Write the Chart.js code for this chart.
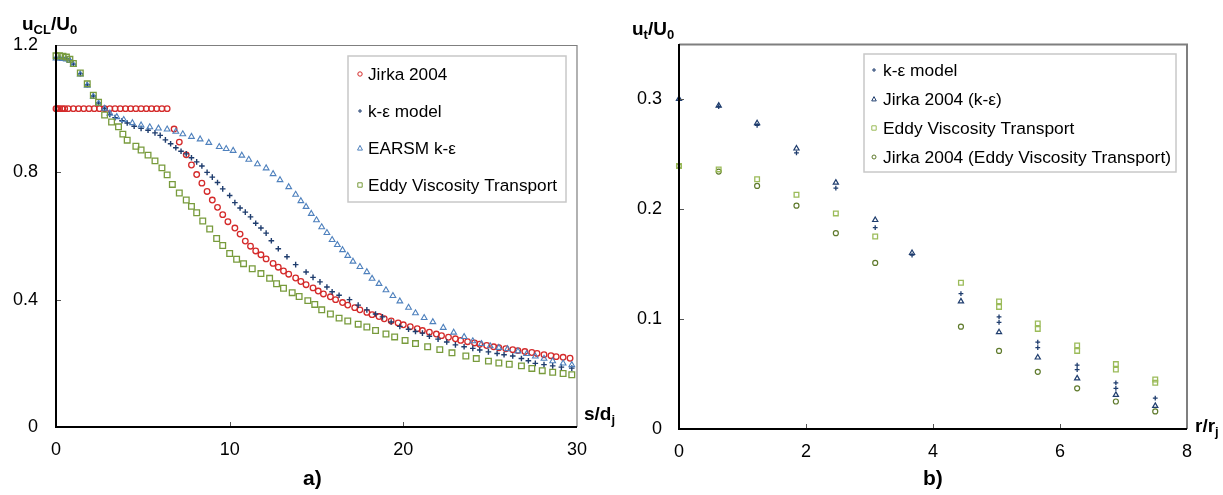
<!DOCTYPE html>
<html><head><meta charset="utf-8">
<script src="https://cdn.jsdelivr.net/npm/chart.js@4/dist/chart.umd.min.js"></script>
<style>
html,body{margin:0;padding:0;background:#fff;}
body{width:1223px;height:495px;position:relative;overflow:hidden;font-family:"Liberation Sans",Arial,sans-serif;}
canvas{position:absolute;top:0;}
.t{position:absolute;font-weight:bold;font-size:19px;line-height:19px;white-space:nowrap;color:#000;}
.t sub{font-size:13px;vertical-align:-4px;line-height:0;}
.p{position:absolute;font-weight:bold;font-size:21px;line-height:21px;color:#000;}
</style></head><body>
<canvas id="c1" width="610" height="495" style="left:0"></canvas>
<canvas id="c2" width="613" height="495" style="left:610px"></canvas>
<div class="t" style="left:22px;top:14px">u<sub>CL</sub>/U<sub>0</sub></div>
<div class="t" style="left:584px;top:404px">s/d<sub>j</sub></div>
<div class="p" style="left:303px;top:467px">a)</div>
<div class="t" style="left:632px;top:19px">u<sub>t</sub>/U<sub>0</sub></div>
<div class="t" style="left:1195px;top:416px">r/r<sub>j</sub></div>
<div class="p" style="left:923px;top:467px">b)</div>
<script>
// ---------- DATA ----------
// panel a) centreline velocity u_CL/U_0 vs s/d_j
const jirkaA = [[0,1.0],[0.1,1.0],[0.2,1.0],[0.35,1.0],[0.5,1.0],[0.7,1.0],[1.0,1.0],[1.3,1.0],[1.6,1.0],[1.9,1.0],[2.2,1.0],[2.5,1.0],[2.8,1.0],[3.1,1.0],[3.4,1.0],[3.7,1.0],[4.0,1.0],[4.3,1.0],[4.6,1.0],[4.9,1.0],[5.2,1.0],[5.5,1.0],[5.8,1.0],[6.1,1.0],[6.4,1.0],
[6.8,0.936],[7.1,0.895],[7.5,0.855],[7.8,0.823],[8.1,0.793],[8.4,0.766],[8.7,0.740],[9.0,0.713],[9.3,0.690],[9.6,0.667],[9.9,0.645],[10.3,0.625],[10.6,0.606],[10.9,0.584],[11.2,0.568],[11.5,0.553],[11.8,0.541],[12.1,0.528],[12.5,0.514],[12.8,0.502],[13.1,0.490],[13.4,0.480],[13.8,0.468],[14.1,0.457],[14.4,0.447],[14.8,0.437],[15.1,0.427],[15.4,0.418],[15.8,0.409],[16.1,0.400],[16.5,0.391],[16.8,0.383],[17.2,0.375],[17.5,0.368],[17.9,0.360],[18.2,0.353],[18.6,0.347],[18.9,0.340],[19.3,0.333],[19.7,0.327],[20.0,0.321],[20.4,0.315],[20.8,0.309],[21.1,0.303],[21.5,0.298],[21.9,0.292],[22.2,0.287],[22.6,0.282],[23.0,0.277],[23.3,0.272],[23.7,0.268],[24.1,0.264],[24.4,0.260],[24.8,0.256],[25.2,0.252],[25.5,0.249],[25.9,0.246],[26.3,0.243],[26.6,0.240],[27.0,0.237],[27.4,0.234],[27.7,0.231],[28.1,0.227],[28.5,0.224],[28.8,0.221],[29.2,0.219],[29.6,0.216]];
const kepsA = [[0,1.16],[0.2,1.16],[0.4,1.16],[0.6,1.157],[0.8,1.152],[1.0,1.14],[1.4,1.11],[1.8,1.075],[2.15,1.04],[2.45,1.018],[2.8,1.0],[3.1,0.982],[3.4,0.972],[3.8,0.962],[4.1,0.955],[4.5,0.945],[4.9,0.938],[5.3,0.932],[5.7,0.924],[6.0,0.916],[6.3,0.902],[6.6,0.89],[6.9,0.877],[7.2,0.866],[7.5,0.858],[7.8,0.846],[8.1,0.833],[8.4,0.82],[8.7,0.80],[9.0,0.785],[9.3,0.768],[9.6,0.748],[10.0,0.727],[10.3,0.705],[10.6,0.688],[10.9,0.675],[11.2,0.66],[11.5,0.64],[11.8,0.625],[12.1,0.609],[12.4,0.585],[12.8,0.56],[13.3,0.535],[13.8,0.51],[14.4,0.487],[14.8,0.47],[15.2,0.456],[15.6,0.44],[15.9,0.425],[16.3,0.414],[16.9,0.40],[17.4,0.383],[17.9,0.368],[18.4,0.355],[18.8,0.346],[19.3,0.33],[19.8,0.316],[20.3,0.307],[20.7,0.30],[21.1,0.295],[21.5,0.285],[22.0,0.276],[22.5,0.267],[23.0,0.258],[23.5,0.252],[24.0,0.247],[24.4,0.242],[24.9,0.236],[25.4,0.231],[25.8,0.227],[26.3,0.223],[26.8,0.215],[27.2,0.208],[27.6,0.200],[28.1,0.196],[28.6,0.192],[29.1,0.188],[29.7,0.185]];
const earsmA = [[0,1.158],[0.2,1.158],[0.4,1.157],[0.6,1.155],[0.8,1.15],[1.0,1.138],[1.4,1.108],[1.8,1.073],[2.15,1.038],[2.45,1.016],[2.8,1.0],[3.1,0.985],[3.5,0.974],[3.9,0.965],[4.4,0.955],[4.9,0.948],[5.4,0.942],[5.9,0.938],[6.4,0.935],[6.9,0.928],[7.3,0.92],[7.8,0.912],[8.3,0.904],[8.8,0.893],[9.4,0.88],[9.8,0.874],[10.2,0.868],[10.7,0.853],[11.1,0.84],[11.6,0.826],[12.1,0.813],[12.5,0.795],[12.9,0.776],[13.4,0.754],[13.8,0.73],[14.1,0.71],[14.4,0.692],[14.7,0.67],[15.0,0.65],[15.3,0.628],[15.6,0.61],[15.9,0.588],[16.2,0.572],[16.5,0.556],[16.8,0.538],[17.1,0.52],[17.5,0.503],[17.9,0.487],[18.2,0.466],[18.6,0.45],[19.0,0.43],[19.4,0.412],[19.8,0.395],[20.3,0.375],[20.7,0.358],[21.2,0.343],[21.7,0.33],[22.3,0.312],[22.9,0.297],[23.5,0.283],[24.0,0.27],[24.5,0.261],[25.0,0.254],[25.5,0.249],[26.0,0.245],[26.6,0.238],[27.1,0.23],[27.6,0.222],[28.1,0.215],[28.6,0.207],[29.2,0.2],[29.7,0.195]];
const evtA = [[0,1.166],[0.2,1.166],[0.4,1.165],[0.6,1.162],[0.8,1.155],[1.0,1.142],[1.4,1.112],[1.8,1.078],[2.15,1.042],[2.45,1.02],[2.8,0.98],[3.2,0.958],[3.6,0.943],[3.85,0.92],[4.1,0.901],[4.6,0.882],[4.9,0.87],[5.3,0.854],[5.7,0.836],[6.1,0.814],[6.4,0.792],[6.7,0.762],[7.1,0.735],[7.5,0.713],[7.8,0.693],[8.1,0.673],[8.45,0.647],[8.85,0.622],[9.25,0.592],[9.6,0.57],[10.0,0.545],[10.4,0.527],[10.8,0.513],[11.3,0.497],[11.8,0.482],[12.3,0.467],[12.7,0.45],[13.1,0.436],[13.6,0.422],[14.0,0.41],[14.5,0.397],[14.9,0.385],[15.3,0.368],[15.8,0.355],[16.3,0.342],[16.8,0.333],[17.4,0.323],[17.9,0.314],[18.4,0.303],[19.0,0.292],[19.5,0.283],[20.1,0.272],[20.7,0.262],[21.4,0.252],[22.1,0.243],[22.8,0.233],[23.6,0.223],[24.2,0.215],[24.9,0.207],[25.5,0.201],[26.1,0.197],[26.8,0.192],[27.4,0.184],[28.0,0.177],[28.6,0.172],[29.2,0.168],[29.7,0.164]];
const xTicksA = [0,10,20,30];
const yTicksA = [0,0.4,0.8,1.2];

// panel b) u_t/U_0 vs r/r_j
const kepsB = [[0,0.299],[0.625,0.293],[1.23,0.276],[1.85,0.251],[2.47,0.219],[3.09,0.183],[3.67,0.158],[4.44,0.123],[5.04,0.102],[5.04,0.097],[5.65,0.079],[5.65,0.074],[6.27,0.058],[6.27,0.054],[6.88,0.042],[6.88,0.037],[7.5,0.028]];
const jirkaKeB = [[0,0.3],[0.625,0.294],[1.23,0.278],[1.85,0.255],[2.47,0.224],[3.09,0.19],[3.67,0.16],[4.44,0.116],[5.04,0.088],[5.65,0.065],[6.27,0.046],[6.88,0.031],[7.5,0.021]];
const evtB = [[0,0.239],[0.625,0.236],[1.23,0.227],[1.85,0.213],[2.47,0.196],[3.09,0.175],[4.44,0.133],[5.04,0.116],[5.04,0.111],[5.65,0.096],[5.65,0.091],[6.27,0.076],[6.27,0.071],[6.88,0.059],[6.88,0.054],[7.5,0.045],[7.5,0.042]];
const jirkaEvtB = [[0,0.239],[0.625,0.234],[1.23,0.221],[1.85,0.203],[2.47,0.178],[3.09,0.151],[4.44,0.093],[5.04,0.071],[5.65,0.052],[6.27,0.037],[6.88,0.025],[7.5,0.016]];
const xTicksB = [0,2,4,6,8];
const yTicksB = [0,0.1,0.2,0.3];

const namesA = ['Jirka 2004','k-\u03b5 model','EARSM k-\u03b5','Eddy Viscosity Transport'];
const namesB = ['k-\u03b5 model','Jirka 2004 (k-\u03b5)','Eddy Viscosity Transport','Jirka 2004 (Eddy Viscosity Transport)'];

// ---------- styling ----------
const RED='#d42a2a', NAVY='#1f3d6e', BLUE='#4f81bd', GREEN='#789b3c', LGREEN='#9bbb59', OLIVE='#5f7a2c';
const FONT = '"Liberation Sans", Arial, sans-serif';
const toPts = a => a.map(p => ({x:p[0], y:p[1]}));

function drawSym(ctx, style, x, y, r, color){
  ctx.save(); ctx.strokeStyle=color; ctx.lineWidth=1; ctx.beginPath();
  if(style==='circle'){ ctx.arc(x,y,r,0,Math.PI*2); }
  else if(style==='cross'){ ctx.moveTo(x-r,y); ctx.lineTo(x+r,y); ctx.moveTo(x,y-r); ctx.lineTo(x,y+r); }
  else if(style==='triangle'){ ctx.moveTo(x,y-r); ctx.lineTo(x+r*0.95,y+r*0.8); ctx.lineTo(x-r*0.95,y+r*0.8); ctx.closePath(); }
  else { ctx.rect(x-r,y-r,2*r,2*r); }
  ctx.stroke(); ctx.restore();
}

const framePlugin = {
  id:'frame',
  afterDraw(chart, args, o){
    const {ctx, chartArea:a, scales:{x,y}} = chart;
    ctx.save();
    ctx.strokeStyle='#555'; ctx.lineWidth=1;
    o.xTicks.forEach(v=>{ const px=Math.round(x.getPixelForValue(v))+0.5; ctx.beginPath(); ctx.moveTo(px,a.bottom); ctx.lineTo(px,a.bottom-5); ctx.stroke(); });
    o.yTicks.forEach(v=>{ const py=Math.round(y.getPixelForValue(v))+0.5; ctx.beginPath(); ctx.moveTo(a.left,py); ctx.lineTo(a.left+5,py); ctx.stroke(); });
    // top & right frame
    ctx.strokeStyle='#7f7f7f'; ctx.lineWidth=o.rightW;
    ctx.beginPath(); ctx.moveTo(a.left, a.top+0.5); ctx.lineTo(a.right, a.top+0.5); ctx.lineTo(a.right, a.bottom); ctx.stroke();
    // axes
    ctx.strokeStyle='#000'; ctx.lineWidth=2;
    ctx.beginPath(); ctx.moveTo(a.left, a.top); ctx.lineTo(a.left, a.bottom); ctx.lineTo(a.right, a.bottom); ctx.stroke();
    // legend
    const L=o.legend;
    ctx.fillStyle='#fff'; ctx.fillRect(L.x0,L.y0,L.x1-L.x0,L.y1-L.y0);
    ctx.strokeStyle='#c8c8c8'; ctx.lineWidth=1.5; ctx.strokeRect(L.x0,L.y0,L.x1-L.x0,L.y1-L.y0);
    ctx.font=L.font+'px '+FONT; ctx.fillStyle='#000'; ctx.textBaseline='middle'; ctx.textAlign='left';
    L.items.forEach((it,i)=>{
      const cy=L.firstY+i*L.step;
      drawSym(ctx,it.style,L.symX,cy,it.r,it.color);
      ctx.fillText(it.label,L.textX,cy+1);
    });
    ctx.restore();
  }
};

function ds(label, pts, style, color, r, bw){
  return {label, data:toPts(pts), pointStyle:style, pointRadius:r, pointHoverRadius:r,
    borderColor:color, pointBorderColor:color, backgroundColor:'rgba(0,0,0,0)', pointBackgroundColor:'rgba(0,0,0,0)',
    pointBorderWidth:bw, showLine:false, clip:false};
}

function mkScales(xmin,xmax,xt,ymin,ymax,yt,yw,xh,pad){
  const common = {grid:{display:false, drawTicks:false}, border:{display:false}};
  return {
    x:{type:'linear', min:xmin, max:xmax, ...common,
       afterBuildTicks:s=>{s.ticks=xt.map(v=>({value:v}));},
       afterFit:s=>{s.height=xh;},
       ticks:{padding:12, color:'#000', font:{family:FONT,size:18}, maxRotation:0, callback:v=>String(v)}},
    y:{type:'linear', min:ymin, max:ymax, ...common,
       afterBuildTicks:s=>{s.ticks=yt.map(v=>({value:v}));},
       afterFit:s=>{s.width=yw;},
       ticks:{padding:pad, color:'#000', font:{family:FONT,size:18}, callback:v=>String(v)}}
  };
}

Chart.defaults.animation=false;

new Chart(document.getElementById('c1'), {
  type:'scatter',
  data:{datasets:[
    ds(namesA[3], evtA, 'rect', GREEN, 4.0, 1.3),
    ds(namesA[2], earsmA, 'triangle', BLUE, 3.3, 1.1),
    ds(namesA[1], kepsA, 'cross', NAVY, 2.8, 1.4),
    ds(namesA[0], jirkaA, 'circle', RED, 2.8, 1.3)
  ]},
  options:{responsive:false, devicePixelRatio:1, animation:false,
    layout:{padding:{top:45,right:33,left:0,bottom:0}},
    plugins:{legend:{display:false}, tooltip:{enabled:false},
      frame:{xTicks:xTicksA.slice(1,-1), yTicks:yTicksA.slice(1,-1), rightW:1.2,
        legend:{x0:348,y0:56,x1:566,y1:202,symX:360,textX:368,firstY:74,step:37,font:17.2,items:[
          {label:namesA[0],style:'circle',r:2.2,color:RED},
          {label:namesA[1],style:'cross',r:2,color:NAVY},
          {label:namesA[2],style:'triangle',r:2.6,color:BLUE},
          {label:namesA[3],style:'rect',r:2.2,color:GREEN}]}}},
    scales:mkScales(0,30,xTicksA,0,1.2,yTicksA,56,68,18)
  },
  plugins:[framePlugin]
});

new Chart(document.getElementById('c2'), {
  type:'scatter',
  data:{datasets:[
    ds(namesB[2], evtB, 'rect', LGREEN, 3.3, 1.3),
    ds(namesB[3], jirkaEvtB, 'circle', OLIVE, 2.5, 1.2),
    ds(namesB[1], jirkaKeB, 'triangle', NAVY, 3.0, 1.2),
    ds(namesB[0], kepsB, 'cross', NAVY, 2.4, 1.3)
  ]},
  options:{responsive:false, devicePixelRatio:1, animation:false,
    layout:{padding:{top:44,right:36,left:0,bottom:0}},
    plugins:{legend:{display:false}, tooltip:{enabled:false},
      frame:{xTicks:xTicksB.slice(1,-1), yTicks:yTicksB.slice(1), rightW:2,
        legend:{x0:254,y0:54,x1:566,y1:172,symX:264,textX:273,firstY:70,step:29,font:17.4,items:[
          {label:namesB[0],style:'cross',r:2,color:NAVY},
          {label:namesB[1],style:'triangle',r:2.4,color:NAVY},
          {label:namesB[2],style:'rect',r:2.2,color:LGREEN},
          {label:namesB[3],style:'circle',r:2,color:OLIVE}]}}},
    scales:mkScales(0,8,xTicksB,0,0.35,yTicksB,69,66,17)
  },
  plugins:[framePlugin]
});
</script>
</body></html>
